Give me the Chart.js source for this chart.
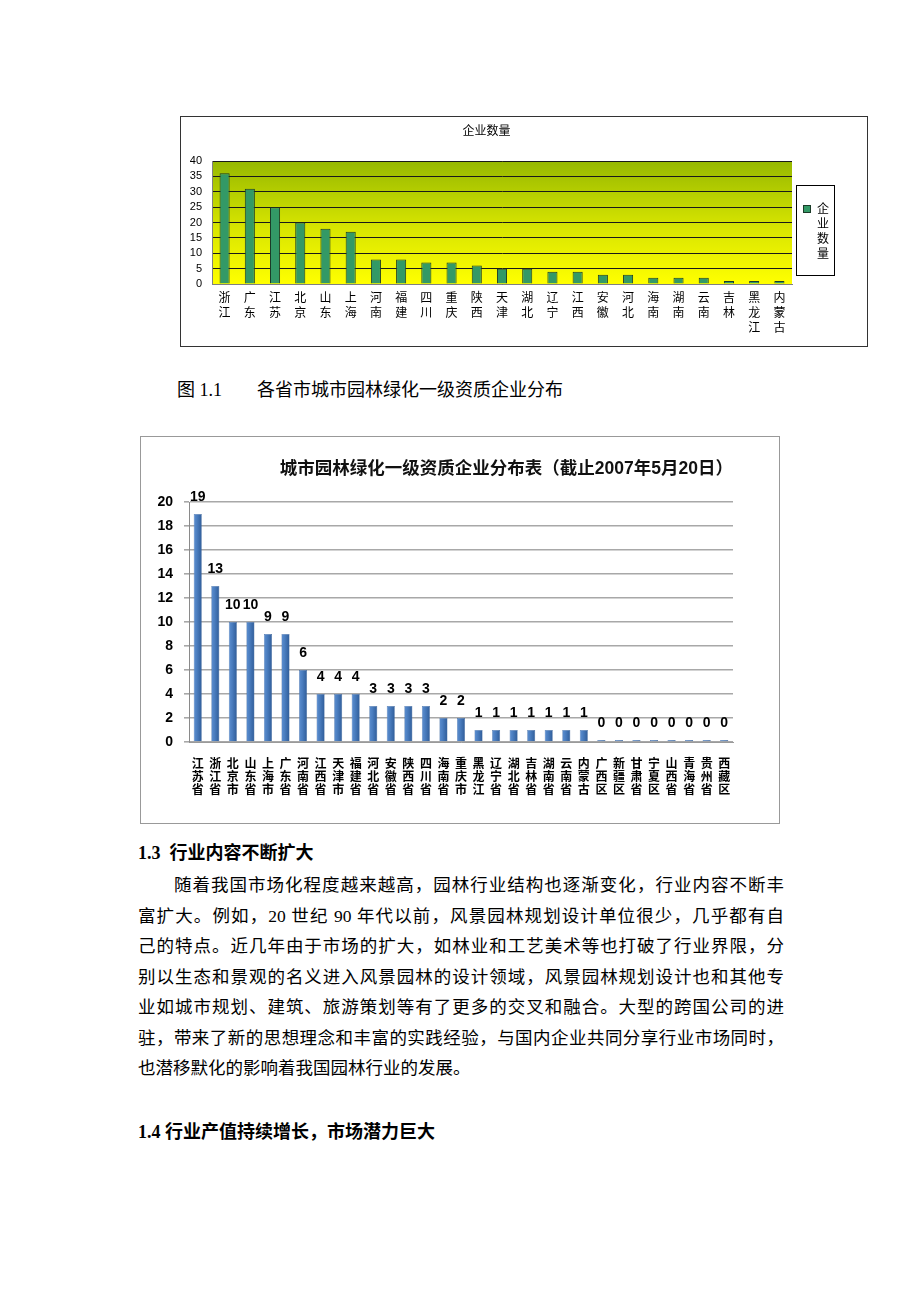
<!DOCTYPE html>
<html>
<head>
<meta charset="utf-8">
<script src="https://cdn.jsdelivr.net/npm/chart.js@4.4.0/dist/chart.umd.min.js"></script>
<style>
  html, body { margin: 0; padding: 0; background: #fff; }
  body {
    width: 920px; height: 1302px; position: relative; overflow: hidden;
    font-family: "Liberation Serif", "Noto Sans CJK SC", serif; color: #000;
  }
  .box { position: absolute; box-sizing: border-box; background: #fff; }
  .box canvas { display: block; }
  #box1 { left: 180px; top: 116px; width: 688px; height: 231px; border: 1px solid #333; }
  #box2 { left: 140px; top: 436px; width: 640px; height: 388px; border: 1px solid #999; }
  #caption { position: absolute; left: 177px; top: 379px; font-size: 18px; line-height: 22px; white-space: pre; }
  #caption span { position: absolute; left: 80px; top: 0; }
  .head { position: absolute; left: 138px; font-size: 18px; line-height: 30px; font-weight: bold; white-space: pre; }
  #para { position: absolute; left: 138px; top: 870px; width: 646px; font-size: 17.5px; }
  #para .ln { height: 30.5px; line-height: 30.5px; text-align: justify; text-align-last: justify; }
  #para .ln.last { text-align-last: left; }
</style>
</head>
<body>

<div class="box" id="box1"><canvas id="chart1" width="686" height="229"></canvas></div>
<div id="caption">图 1.1<span>各省市城市园林绿化一级资质企业分布</span></div>
<div class="box" id="box2"><canvas id="chart2" width="638" height="386"></canvas></div>

<div class="head" style="top:838px">1.3  行业内容不断扩大</div>
<div id="para">
  <div class="ln" style="padding-left:36px">随着我国市场化程度越来越高，园林行业结构也逐渐变化，行业内容不断丰</div>
  <div class="ln">富扩大。例如，20 世纪 90 年代以前，风景园林规划设计单位很少，几乎都有自</div>
  <div class="ln">己的特点。近几年由于市场的扩大，如林业和工艺美术等也打破了行业界限，分</div>
  <div class="ln">别以生态和景观的名义进入风景园林的设计领域，风景园林规划设计也和其他专</div>
  <div class="ln">业如城市规划、建筑、旅游策划等有了更多的交叉和融合。大型的跨国公司的进</div>
  <div class="ln">驻，带来了新的思想理念和丰富的实践经验，与国内企业共同分享行业市场同时，</div>
  <div class="ln last">也潜移默化的影响着我国园林行业的发展。</div>
</div>
<div class="head" style="top:1117px">1.4 行业产值持续增长，市场潜力巨大</div>

<script>
// ---- chart 1 data: 企业数量 by province ----
const provinces1 = ['浙江', '广东', '江苏', '北京', '山东', '上海', '河南', '福建', '四川', '重庆',
  '陕西', '天津', '湖北', '辽宁', '江西', '安徽', '河北', '海南', '湖南', '云南', '吉林', '黑龙江', '内蒙古'];
const counts1 = [36, 31, 25, 20, 18, 17, 8, 8, 7, 7, 6, 5, 5, 4, 4, 3, 3, 2, 2, 2, 1, 1, 1];
const seriesName1 = '企业数量';
const yMax1 = 40;
const yStep1 = 5;

// ---- chart 2 data: 一级资质企业分布 (截止2007年5月20日) ----
const chartTitle2 = '城市园林绿化一级资质企业分布表（截止2007年5月20日）';
const provinces2 = ['江苏省', '浙江省', '北京市', '山东省', '上海市', '广东省', '河南省', '江西省',
  '天津市', '福建省', '河北省', '安徽省', '陕西省', '四川省', '海南省', '重庆市', '黑龙江', '辽宁省',
  '湖北省', '吉林省', '湖南省', '云南省', '内蒙古', '广西区', '新疆区', '甘肃省', '宁夏区', '山西省',
  '青海省', '贵州省', '西藏区'];
const counts2 = [19, 13, 10, 10, 9, 9, 6, 4, 4, 4, 3, 3, 3, 3, 2, 2, 1, 1, 1, 1, 1, 1, 1, 0, 0, 0, 0, 0, 0, 0, 0];
const yMax2 = 20;
const yStep2 = 2;

Chart.defaults.font.family = "'Liberation Sans', 'Noto Sans CJK SC', sans-serif";
Chart.defaults.color = '#000';
Chart.defaults.animation = false;

// Stack the characters of a label vertically
const vertical = s => s.split('');

// Gradient fill behind the plot area (chart 1)
const plotBg = {
  id: 'plotBg',
  beforeDraw(chart) {
    const { ctx, chartArea: a } = chart;
    const g = ctx.createLinearGradient(0, a.top, 0, a.bottom);
    g.addColorStop(0, '#96b800');
    g.addColorStop(0.55, '#d9e600');
    g.addColorStop(1, '#ffff00');
    ctx.save();
    ctx.fillStyle = g;
    ctx.fillRect(a.left, a.top, a.width, a.height);
    ctx.restore();
  }
};

// Boxed legend with vertical text to the right of the plot (chart 1)
const verticalLegend = {
  id: 'verticalLegend',
  afterDraw(chart) {
    const ctx = chart.ctx;
    const ds = chart.data.datasets[0];
    const x = chart.chartArea.right + 4, y = 68, w = 38, h = 90;
    ctx.save();
    ctx.fillStyle = '#fff';
    ctx.fillRect(x, y, w, h);
    ctx.strokeStyle = '#000';
    ctx.lineWidth = 1;
    ctx.strokeRect(x + 0.5, y + 0.5, w, h);
    ctx.fillStyle = ds.backgroundColor;
    ctx.fillRect(x + 7, y + 20, 8, 8);
    ctx.strokeStyle = ds.borderColor;
    ctx.strokeRect(x + 7.5, y + 20.5, 7, 7);
    ctx.fillStyle = '#000';
    ctx.font = "12px 'Noto Sans CJK SC'";
    ctx.textAlign = 'center';
    ctx.textBaseline = 'middle';
    ds.label.split('').forEach((c, i) => ctx.fillText(c, x + 27, y + 23 + i * 15));
    ctx.restore();
  }
};

// Value labels above the bars (chart 2)
const valueLabels = {
  id: 'valueLabels',
  afterDatasetsDraw(chart) {
    const ctx = chart.ctx;
    const meta = chart.getDatasetMeta(0);
    const data = chart.data.datasets[0].data;
    ctx.save();
    ctx.font = "bold 14px 'Liberation Sans'";
    ctx.fillStyle = '#000';
    ctx.textAlign = 'center';
    ctx.textBaseline = 'middle';
    meta.data.forEach((bar, i) => {
      ctx.fillText(String(data[i]), bar.x, bar.y - 17);
    });
    ctx.restore();
  }
};

// ----------------------------------------------------------------
// Chart 1: 企业数量
// ----------------------------------------------------------------
new Chart(document.getElementById('chart1').getContext('2d'), {
  type: 'bar',
  data: {
    labels: provinces1.map(vertical),
    datasets: [{
      label: seriesName1,
      data: counts1,
      backgroundColor: '#339966',
      borderColor: '#1b3b28',
      borderWidth: 1,
      barPercentage: 0.4,
      categoryPercentage: 1
    }]
  },
  options: {
    responsive: false,
    layout: { padding: { left: 0, right: 75, top: 0, bottom: 0 } },
    plugins: {
      legend: { display: false },
      tooltip: { enabled: false },
      title: {
        display: true,
        text: '企业数量',
        font: { size: 12, weight: 'normal', family: "'Noto Sans CJK SC'" },
        padding: { top: 6, bottom: 23.6 }
      }
    },
    scales: {
      x: {
        grid: { display: false, drawTicks: false },
        border: { color: '#808080' },
        ticks: {
          autoSkip: false, maxRotation: 0, padding: 6,
          font: { size: 12, family: "'Noto Sans CJK SC'", lineHeight: 1.25 }
        },
        afterFit: s => { s.height = 62; }
      },
      y: {
        min: 0, max: yMax1,
        grid: { color: '#1a1a1a', drawTicks: false },
        border: { color: '#808080' },
        ticks: { stepSize: yStep1, autoSkip: false, padding: 10, font: { size: 11 } },
        afterFit: s => { s.width = 31; }
      }
    }
  },
  plugins: [plotBg, verticalLegend]
});

// ----------------------------------------------------------------
// Chart 2: 城市园林绿化一级资质企业分布表
// ----------------------------------------------------------------
new Chart(document.getElementById('chart2').getContext('2d'), {
  type: 'bar',
  data: {
    labels: provinces2.map(vertical),
    datasets: [{
      label: '企业数量',
      data: counts2,
      backgroundColor: function (c) {
        const chart = c.chart;
        if (!chart.chartArea || c.type !== 'data') return '#4f81bd';
        const x = chart.scales.x.getPixelForValue(c.dataIndex);
        const g = chart.ctx.createLinearGradient(x - 4, 0, x + 4, 0);
        g.addColorStop(0, '#5d8fd0');
        g.addColorStop(0.4, '#4a7dbf');
        g.addColorStop(1, '#2f5c98');
        return g;
      },
      borderColor: '#3a6299',
      borderWidth: 0.5,
      barPercentage: 0.46,
      categoryPercentage: 1,
      minBarLength: 2
    }]
  },
  options: {
    responsive: false,
    layout: { padding: { left: 0, right: 46, top: 0, bottom: 0 } },
    plugins: {
      legend: { display: false },
      tooltip: { enabled: false },
      title: {
        display: true,
        text: chartTitle2,
        fullSize: false,
        align: 'end',
        color: '#111',
        font: { size: 17.5, weight: 'bold', family: "'Liberation Sans', 'Noto Sans CJK SC'" },
        padding: { top: 21.5, bottom: 22.5 }
      }
    },
    scales: {
      x: {
        grid: { display: false, drawTicks: false },
        border: { color: '#9a9a9a' },
        ticks: {
          autoSkip: false, maxRotation: 0, padding: 15,
          font: { size: 12, weight: 'bold', family: "'Noto Sans CJK SC'", lineHeight: 1.07 }
        },
        afterFit: s => { s.height = 81; }
      },
      y: {
        min: 0, max: yMax2,
        grid: { color: '#a8a8a8', lineWidth: 1.6, tickLength: 5 },
        border: { color: '#8a8a8a' },
        ticks: { stepSize: yStep2, autoSkip: false, padding: 11, font: { size: 14, weight: 'bold' } },
        afterFit: s => { s.width = 48; }
      }
    }
  },
  plugins: [valueLabels]
});
</script>
</body>
</html>
